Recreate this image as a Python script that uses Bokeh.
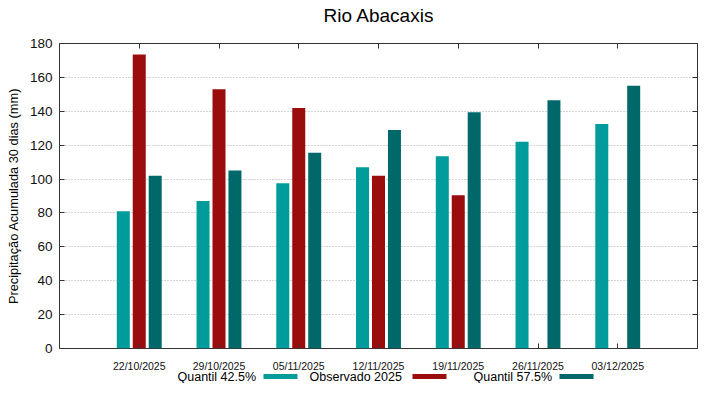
from bokeh.plotting import figure
from bokeh.layouts import column
from bokeh.models import ColumnDataSource, FixedTicker, LinearAxis, Range1d
from bokeh.core.properties import value
from bokeh.embed import file_html
from bokeh.resources import INLINE

# ---- data ----
title_text = "Rio Abacaxis"
y_label = "Precipitação Acumulada 30 dias (mm)"
dates = ["22/10/2025", "29/10/2025", "05/11/2025", "12/11/2025",
         "19/11/2025", "26/11/2025", "03/12/2025"]
q425 = [81, 87, 97.5, 107, 113.5, 122, 132.5]
obs2025 = [173.5, 153, 142, 102, 90.5, float("nan"), float("nan")]
q575 = [102, 105, 115.5, 129, 139.5, 146.5, 155]
series_names = ["Quantil 42.5%", "Observado 2025", "Quantil 57.5%"]
colors = ["#009b9b", "#9b0c0c", "#006868"]
y_ticks = list(range(0, 181, 20))

FONT = "Liberation Sans"
W = 703
TITLE_H = 30
FL, FR, FT, FB = 59, 697, 43, 350   # frame edges in page px
MAIN_BOTTOM = 24
MAIN_H = FB + MAIN_BOTTOM - TITLE_H
LEG_H = 14
LEG_OVERLAP = 5

# ---- title strip ----
tfig = figure(width=W, height=TITLE_H, output_backend="svg", toolbar_location=None,
              x_range=Range1d(FL, FR), y_range=Range1d(0, TITLE_H),
              min_border=0, min_border_left=FL, min_border_right=W - FR,
              outline_line_color=None,
              background_fill_color=None, border_fill_color=None)
tfig.axis.visible = False
tfig.grid.visible = False
tfig.text(x=[(FL + FR) / 2 + 0.5], y=[TITLE_H - 15], text=[title_text],
          text_font=value(FONT), text_font_size="19px",
          text_align="center", text_baseline="middle", text_color="#000000")

# ---- main chart ----
p = figure(width=W, height=MAIN_H, output_backend="svg", toolbar_location=None,
           x_range=Range1d(-1, 7), y_range=Range1d(0, 180),
           min_border_left=FL, min_border_right=W - FR,
           min_border_top=FT - TITLE_H, min_border_bottom=MAIN_BOTTOM)
p.outline_line_color = "#333333"
p.outline_line_width = 1
p.border_fill_color = "white"

idx = list(range(len(dates)))
bw = 0.163
off = 0.2
for k, (vals, c) in enumerate(zip([q425, obs2025, q575], colors)):
    xs = [i + (k - 1) * off for i in idx]
    src = ColumnDataSource(dict(x=xs, top=vals))
    p.vbar(x="x", top="top", bottom=0, width=bw, source=src,
           fill_color=c, line_color=None)

p.xaxis.ticker = FixedTicker(ticks=idx)
p.xaxis.major_label_overrides = {i: d for i, d in enumerate(dates)}
p.yaxis.ticker = FixedTicker(ticks=y_ticks)
for ax in p.xaxis + p.yaxis:
    ax.axis_line_color = None
    ax.major_tick_in = 5
    ax.major_tick_out = 0
    ax.minor_tick_line_color = None
    ax.major_tick_line_color = "#333333"
    ax.major_label_text_font = FONT
    ax.major_label_text_color = "#111111"
p.xaxis.major_label_text_font_size = "10.5px"
p.xaxis.major_label_standoff = 11
p.yaxis.major_label_text_font_size = "13.5px"
p.yaxis.major_label_standoff = 7
p.yaxis.axis_label = y_label
p.yaxis.axis_label_text_font = FONT
p.yaxis.axis_label_text_font_size = "12.8px"
p.yaxis.axis_label_text_font_style = "normal"
p.yaxis.axis_label_text_color = "#000000"
p.yaxis.axis_label_standoff = 6

top_ax = LinearAxis(ticker=FixedTicker(ticks=idx),
                    major_label_overrides={i: "" for i in idx},
                    axis_line_color=None, major_tick_in=5, major_tick_out=0,
                    minor_tick_line_color=None, major_tick_line_color="#333333",
                    major_label_standoff=0)
right_ax = LinearAxis(ticker=FixedTicker(ticks=y_ticks),
                      major_label_overrides={t: "" for t in y_ticks},
                      axis_line_color=None, major_tick_in=5, major_tick_out=0,
                      minor_tick_line_color=None, major_tick_line_color="#333333",
                      major_label_standoff=0)
p.add_layout(top_ax, "above")
p.add_layout(right_ax, "right")

p.xgrid.grid_line_color = None
p.ygrid.grid_line_color = "#a8a8a8"
p.ygrid.grid_line_dash = "1 2"
p.ygrid.grid_line_width = 1

# ---- legend strip (label followed by colour sample) ----
leg = figure(width=W, height=LEG_H, output_backend="svg", toolbar_location=None,
             x_range=Range1d(FL, FR), y_range=Range1d(0, LEG_H),
             min_border=0, min_border_left=FL, min_border_right=W - FR,
             outline_line_color=None,
             background_fill_color=None, border_fill_color=None)
leg.margin = (-LEG_OVERLAP, 0, 0, 0)
leg.axis.visible = False
leg.grid.visible = False
leg_text_x = [177, 309, 473]
leg_box_x = [263, 412, 559]
box_w = 34
leg.text(x=leg_text_x, y=[LEG_H / 2] * 3, text=series_names,
         text_font=value(FONT), text_font_size="12.5px",
         text_align="left", text_baseline="middle", text_color="#000000")
leg.quad(left=leg_box_x, right=[b + box_w for b in leg_box_x],
         bottom=[LEG_H / 2 - 2.5] * 3, top=[LEG_H / 2 + 2.5] * 3,
         fill_color=colors, line_color=None)

layout = column(tfig, p, leg, spacing=0)
open("out.html", "w", encoding="utf-8").write(file_html(layout, INLINE))
